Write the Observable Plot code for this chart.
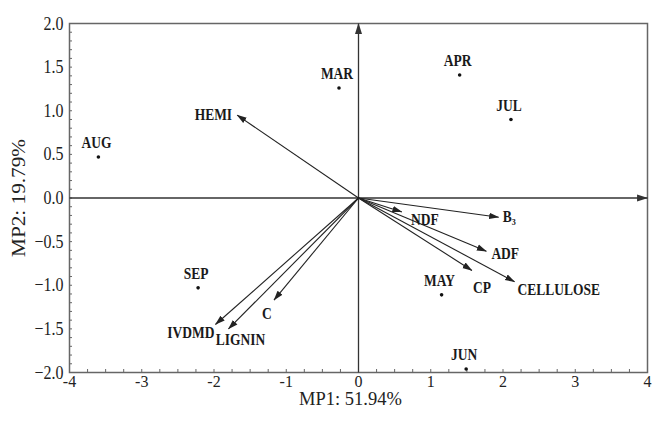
<!DOCTYPE html>
<html>
<head>
<meta charset="utf-8">
<script src="https://cdn.jsdelivr.net/npm/d3@7"></script>
<script src="https://cdn.jsdelivr.net/npm/@observablehq/plot@0.6"></script>
<style>
  html, body { margin: 0; padding: 0; background: #fff; }
</style>
</head>
<body>
<div id="chart"></div>
<script>
// ---- data ----
const months = ["AUG", "MAR", "APR", "JUL", "SEP", "MAY", "JUN"];
const monthMP1 = [-3.60, -0.27, 1.40, 2.11, -2.22, 1.15, 1.49];
const monthMP2 = [0.47, 1.26, 1.41, 0.90, -1.03, -1.11, -1.96];

const variables = ["HEMI", "B₃", "NDF", "ADF", "CP", "CELLULOSE", "IVDMD", "LIGNIN", "C"];
const varMP1 = [-1.68, 1.94, 0.60, 1.77, 1.57, 2.16, -1.98, -1.80, -1.17];
const varMP2 = [0.95, -0.22, -0.16, -0.61, -0.83, -0.96, -1.45, -1.50, -1.17];

const xDomain = [-4, 4];
const yDomain = [-2, 2];
const xTicks = [-4, -3, -2, -1, 0, 1, 2, 3, 4];
const yTicks = [-2, -1.5, -1, -0.5, 0, 0.5, 1, 1.5, 2];
const xLabel = "MP1: 51.94%";
const yLabel = "MP2: 19.79%";

// ---- derived tables ----
const monthRows = months.map((m, i) => ({name: m, x: monthMP1[i], y: monthMP2[i]}));
const varRows = variables.map((v, i) => ({name: v, x: varMP1[i], y: varMP2[i]}));
const minorX = d3.range(xDomain[0], xDomain[1] + 1e-9, 0.25);
const minorY = d3.range(yDomain[0], yDomain[1] + 1e-9, 0.1);
const axisLines = [
  {x1: xDomain[0], y1: 0, x2: xDomain[1], y2: 0},
  {x1: 0, y1: yDomain[0], x2: 0, y2: yDomain[1]}
];

// label placement (pixel offsets from arrow tip) -- layout only
const varLabelStyle = {
  "HEMI":      {anchor: "end",    dx: -5,  dy: 0},
  "B₃":        {anchor: "start",  dx: 4,   dy: 0},
  "NDF":       {anchor: "middle", dx: 23,  dy: 8},
  "ADF":       {anchor: "start",  dx: 5,   dy: 3},
  "CP":        {anchor: "middle", dx: 10,  dy: 17},
  "CELLULOSE": {anchor: "start",  dx: 3,   dy: 8},
  "IVDMD":     {anchor: "end",    dx: -1,  dy: 8},
  "LIGNIN":    {anchor: "middle", dx: 12,  dy: 11},
  "C":         {anchor: "middle", dx: -7,  dy: 14}
};

// filled triangular arrowhead marker
function filledHead(size) {
  return (color) => {
    const m = d3.create("svg:marker")
      .attr("viewBox", "-5 -5 10 10")
      .attr("refX", 4.5)
      .attr("markerWidth", size)
      .attr("markerHeight", size)
      .attr("markerUnits", "userSpaceOnUse")
      .attr("orient", "auto")
      .attr("fill", color)
      .attr("stroke", "none");
    m.append("path").attr("d", "M-5,-3.2L5,0L-5,3.2Z");
    return m.node();
  };
}

const labelFont = {fontFamily: "Liberation Serif", fontSize: 13.5, fontWeight: "bold", fill: "#1a1a1a"};

const plot = Plot.plot({
  width: 654,
  height: 424,
  marginLeft: 69,
  marginRight: 7,
  marginTop: 23,
  marginBottom: 52,
  style: {fontFamily: "Liberation Serif", fontSize: "16px", background: "#fff", color: "#222"},
  x: {domain: xDomain},
  y: {domain: yDomain},
  marks: [
    Plot.frame({stroke: "#666", strokeWidth: 1.5}),
    // minor inward ticks
    Plot.axisX(minorX, {tickSize: -3, tickFormat: () => "", label: null, stroke: "#666"}),
    Plot.axisY(minorY, {tickSize: -3, tickFormat: () => "", label: null, stroke: "#666"}),
    // major tick labels
    Plot.axisX(xTicks, {tickSize: 0, tickPadding: 2, tickFormat: d => String(d), fontSize: 16, label: null,
      className: "xtick"}),
    Plot.axisY(yTicks, {tickSize: 0, tickPadding: 6, tickFormat: d3.format(".1f"), fontSize: 16, label: null}),
    // axis titles
    Plot.text([xLabel], {frameAnchor: "bottom", text: d => d, textAnchor: "middle", lineAnchor: "middle",
      dy: 27, dx: -8, fontSize: 18.5, fill: "#222", className: "xtitle"}),
    Plot.text([yLabel], {frameAnchor: "left", text: d => d, textAnchor: "middle", lineAnchor: "middle",
      dx: -50, dy: 0, rotate: -90, fontSize: 18, fill: "#222"}),
    // axes through origin with arrowheads
    Plot.link(axisLines, {x1: "x1", y1: "y1", x2: "x2", y2: "y2", stroke: "#333", strokeWidth: 1.3,
      markerEnd: filledHead(11)}),
    // loading vectors
    Plot.link(varRows, {x1: () => 0, y1: () => 0, x2: "x", y2: "y", stroke: "#222", strokeWidth: 1.1,
      markerEnd: filledHead(10)}),
    ...varRows.map(r => Plot.text([r], {x: "x", y: "y", text: "name",
      textAnchor: varLabelStyle[r.name].anchor, dx: varLabelStyle[r.name].dx, dy: varLabelStyle[r.name].dy,
      ...labelFont})),
    // month scores
    Plot.dot(monthRows, {x: "x", y: "y", r: 1.8, fill: "#111", stroke: "none"}),
    Plot.text(monthRows, {x: "x", y: "y", text: "name", dx: -2, dy: -14, ...labelFont})
  ]
});

// the source face is slightly stretched vertically
d3.select(plot).selectAll("text").attr("transform", function() {
  const t = this.getAttribute("transform") || "";
  const g = this.closest("g");
  let s = 1.18;
  if (g && g.classList.contains("xtitle")) s = 1.0;
  else if (g && g.classList.contains("xtick")) s = 1.1;
  return t + (t.includes("rotate") ? ` scale(${s},1)` : ` scale(1,${s})`);
});

document.getElementById("chart").appendChild(plot);
</script>
</body>
</html>
